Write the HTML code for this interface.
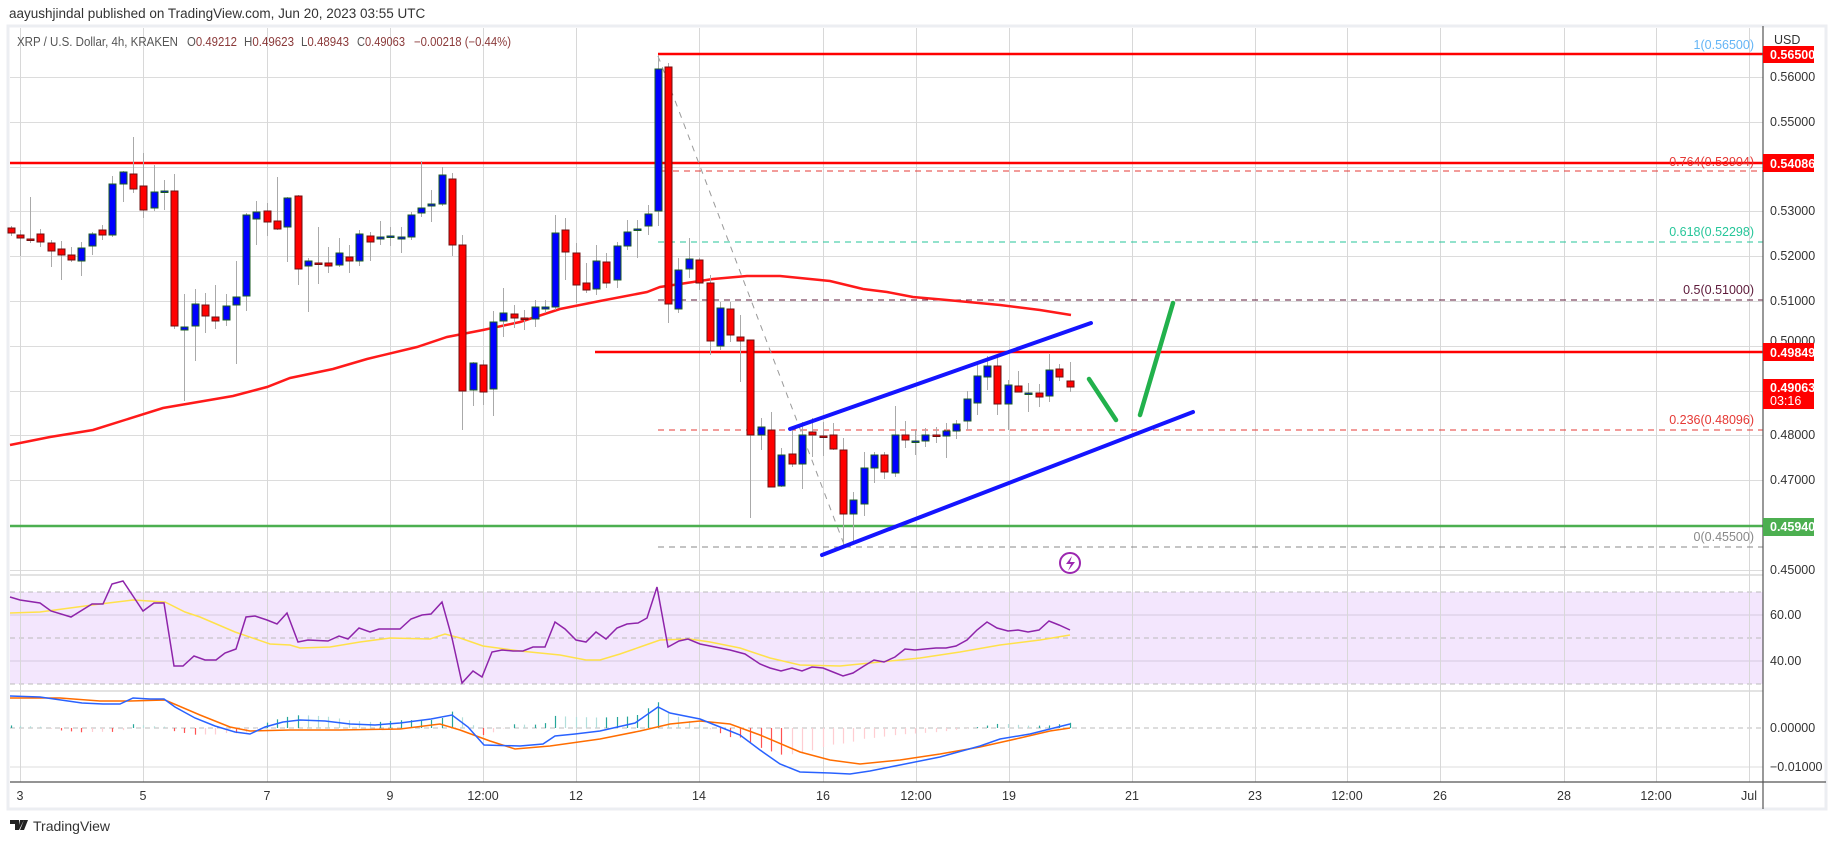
<!DOCTYPE html>
<html><head><meta charset="utf-8"><style>
html,body{margin:0;padding:0;background:#fff;width:1835px;height:845px;overflow:hidden;font-family:"Liberation Sans",sans-serif}
#hdr{position:absolute;left:9px;top:6px;font-size:13.5px;color:#333}
svg{position:absolute;left:0;top:0}
</style></head><body>
<div id="hdr">aayushjindal published on TradingView.com, Jun 20, 2023 03:55 UTC</div>
<svg id="s" width="1835" height="845" xmlns="http://www.w3.org/2000/svg" font-family="Liberation Sans, sans-serif">
<rect x="8" y="26" width="1818" height="783" fill="#fff" stroke="#eceef2" stroke-width="3"/>
<g id="grid" stroke="#dcdcdc" stroke-width="1"></g>
<rect x="10" y="592" width="1753" height="92" fill="#f3e6fd"/>
<g stroke="#bbb" stroke-dasharray="5,4" stroke-width="1">
<line x1="10" y1="592" x2="1763" y2="592"/><line x1="10" y1="638" x2="1763" y2="638"/><line x1="10" y1="684" x2="1763" y2="684"/><line x1="10" y1="728" x2="1763" y2="728"/>
</g>
<g stroke="#d6cbe0"><line x1="10" y1="615" x2="1763" y2="615"/><line x1="10" y1="661" x2="1763" y2="661"/></g>
<g stroke="#e3e3e3" stroke-width="2"><line x1="10" y1="575" x2="1763" y2="575"/><line x1="10" y1="691" x2="1763" y2="691"/></g>
<line x1="10" y1="767" x2="1763" y2="767" stroke="#dcdcdc"/>
<g id="vg"></g>
<line x1="658" y1="54" x2="1763" y2="54" stroke="#ff0000" stroke-width="2.5"/>
<line x1="10" y1="163" x2="1763" y2="163" stroke="#ff0000" stroke-width="2.5"/>
<line x1="662" y1="171" x2="1763" y2="171" stroke="#e53935" stroke-dasharray="6,5"/>
<line x1="658" y1="242" x2="1763" y2="242" stroke="#26c69a" stroke-dasharray="6,5"/>
<line x1="658" y1="300" x2="1763" y2="300" stroke="#5d1a3a" stroke-dasharray="6,5"/>
<line x1="595" y1="352" x2="1763" y2="352" stroke="#ff0000" stroke-width="2.5"/>
<line x1="658" y1="430" x2="1763" y2="430" stroke="#e53935" stroke-dasharray="6,5"/>
<line x1="658" y1="547" x2="1763" y2="547" stroke="#888" stroke-dasharray="6,5"/>
<line x1="10" y1="526" x2="1763" y2="526" stroke="#4caf50" stroke-width="2.5"/>
<line x1="658" y1="56" x2="845" y2="547" stroke="#999" stroke-dasharray="6,6"/>
<g font-size="12.5" text-anchor="end">
<text x="1754" y="49" fill="#64b5f6">1(0.56500)</text>
<text x="1754" y="166" fill="#e53935">0.764(0.53904)</text>
<text x="1754" y="236" fill="#26c69a">0.618(0.52298)</text>
<text x="1754" y="294" fill="#5d1a3a">0.5(0.51000)</text>
<text x="1754" y="424" fill="#e53935">0.236(0.48096)</text>
<text x="1754" y="541" fill="#888">0(0.45500)</text>
</g>
<polyline id="sma" fill="none" stroke="#ff1a1a" stroke-width="2.5" points="10,445 50,437 93,430 163,408 233,396 267,387 290,378 333,369 367,359 417,347 447,337 483,330 520,322 560,309 600,301 647,292 660,287 713,279 747,276 780,276 830,281 863,289 887,292 913,297 947,300 1000,305 1040,310 1071,315"/>
<g id="candles"></g>
<g stroke="#1414ff" stroke-width="4" stroke-linecap="round">
<line x1="790" y1="429" x2="1091" y2="323"/><line x1="822" y1="555" x2="1193" y2="412"/>
</g>
<g stroke="#22b14c" stroke-width="4.5" stroke-linecap="round">
<line x1="1089" y1="379" x2="1116" y2="420"/><line x1="1140" y1="415" x2="1173" y2="303"/>
</g>
<circle cx="1070" cy="563" r="10" fill="#fff" stroke="#9c27b0" stroke-width="2"/>
<path d="M1072,556 L1066,564 L1071,564 L1068,571 L1075,562 L1070,562 Z" fill="#9c27b0"/>
<polyline id="rsima" fill="none" stroke="#ffe14a" stroke-width="1.5" points="10,613 40,612 70,608 100,604 133,600 165,602 185,612 200,617 235,632 270,644 290,645 300,648 330,647 360,642 390,638 430,639 445,634 460,638 483,646 520,651 560,655 586,660 600,660 620,654 640,647 660,640 690,639 710,642 740,648 770,658 800,665 840,666 880,662 920,658 960,652 1000,645 1040,640 1070,635"/>
<polyline fill="none" stroke="#8e24aa" stroke-width="1.5" points="10,597 20,600 40,603 51,611 71,617 92,604 103,604 112,584 123,581 133,596 143,611 154,603 164,603 174,666 183,666 194,656 205,660 216,660 225,653 236,649 246,617 255,616 267,620 277,624 287,613 298,642 308,640 328,641 339,636 348,639 359,628 370,632 379,629 400,629 411,619 422,615 431,614 442,602 452,638 462,683 473,671 482,677 492,652 502,650 513,651 523,651 533,647 545,647 555,622 565,629 576,640 586,642 596,632 606,639 617,628 627,624 638,623 647,618 657,587 668,647 679,641 688,639 700,644 710,646 720,648 730,650 745,654 760,664 770,668 781,671 792,668 802,671 812,667 823,668 833,672 843,676 853,673 864,666 874,660 884,662 895,657 905,649 915,650 925,649 936,648 946,648 956,646 967,640 977,630 987,622 997,628 1008,631 1018,630 1028,632 1039,630 1049,621 1059,625 1070,630"/>
<g id="hist"></g>
<polyline id="sig" fill="none" stroke="#ff6d00" stroke-width="1.5" points="10,698 60,698 100,701 130,701 165,700 200,715 230,727 250,731 290,730 340,730 400,729 440,724 460,730 490,741 515,749 550,746 600,739 640,731 670,724 700,721 730,724 760,735 800,752 830,760 860,764 900,760 940,754 980,747 1020,738 1050,731 1070,728"/>
<polyline id="macd" fill="none" stroke="#2962ff" stroke-width="1.5" points="10,696 40,697 82,703 103,704 120,704 133,698 150,699 164,699 175,707 195,718 215,726 235,732 250,734 265,727 283,722 300,720 325,721 350,724 375,725 400,723 431,719 452,715 468,727 484,745 520,746 543,744 555,736 575,734 600,731 635,723 658,707 670,713 700,719 720,727 740,735 760,750 780,764 800,772 830,773 850,774 870,771 900,765 940,757 980,746 1000,739 1030,734 1070,724"/>
<line x1="1763" y1="26" x2="1763" y2="809" stroke="#555" stroke-width="1.2"/>
<line x1="10" y1="782" x2="1826" y2="782" stroke="#555" stroke-width="1.2"/>
<g font-size="12.5" lengthAdjust="spacingAndGlyphs">
<text x="17" y="46" fill="#555" textLength="161" lengthAdjust="spacingAndGlyphs">XRP / U.S. Dollar, 4h, KRAKEN</text>
<text x="187" y="46" fill="#555" textLength="50" lengthAdjust="spacingAndGlyphs">O<tspan fill="#8b3a3a">0.49212</tspan></text>
<text x="244" y="46" fill="#555" textLength="50" lengthAdjust="spacingAndGlyphs">H<tspan fill="#8b3a3a">0.49623</tspan></text>
<text x="301" y="46" fill="#555" textLength="48" lengthAdjust="spacingAndGlyphs">L<tspan fill="#8b3a3a">0.48943</tspan></text>
<text x="357" y="46" fill="#555" textLength="48" lengthAdjust="spacingAndGlyphs">C<tspan fill="#8b3a3a">0.49063</tspan></text>
<text x="414" y="46" fill="#8b3a3a" textLength="97" lengthAdjust="spacingAndGlyphs">−0.00218 (−0.44%)</text>
</g>
<g font-size="12.5" fill="#333" id="yl">
<text x="1774" y="44">USD</text>
<text x="1770" y="81">0.56000</text><text x="1770" y="126">0.55000</text><text x="1770" y="215">0.53000</text><text x="1770" y="260">0.52000</text><text x="1770" y="305">0.51000</text><text x="1770" y="345">0.50000</text><text x="1770" y="439">0.48000</text><text x="1770" y="484">0.47000</text><text x="1770" y="574">0.45000</text>
<text x="1770" y="619">60.00</text><text x="1770" y="665">40.00</text><text x="1770" y="732">0.00000</text><text x="1770" y="771">−0.01000</text>
</g>
<g font-size="12.5" font-weight="bold" fill="#fff">
<rect x="1763" y="46" width="51" height="17" fill="#ff0000"/><text x="1770" y="59">0.56500</text>
<rect x="1763" y="154" width="51" height="18" fill="#ff0000"/><text x="1770" y="168">0.54086</text>
<rect x="1763" y="343" width="51" height="18" fill="#ff0000"/><text x="1770" y="357">0.49849</text>
<rect x="1763" y="379" width="51" height="30" fill="#ff0000"/><text x="1770" y="392">0.49063</text><text x="1770" y="405" font-weight="normal">03:16</text>
<rect x="1763" y="518" width="51" height="18" fill="#4caf50"/><text x="1770" y="531">0.45940</text>
</g>
<g id="xl" font-size="12.5" fill="#333" text-anchor="middle"></g>
<g transform="translate(10,818)"><path d="M0,2 h9 v10 h-4 v-6 h-5 z M10,2 h4 l-5,10 h-1 z M14,2 h4 l-4,10 h-4z" fill="#222"/></g>
<text x="33" y="831" font-size="14" fill="#333">TradingView</text>
</svg>
<script>
var NS="http://www.w3.org/2000/svg";
function el(t,a,p){var e=document.createElementNS(NS,t);for(var k in a)e.setAttribute(k,a[k]);p.appendChild(e);return e;}
var g=document.getElementById('grid');
for(var p=0.45;p<0.5605;p+=0.01){var y=Math.round(77+(0.56-p)*4480)+0.5;el('line',{x1:10,y1:y,x2:1763,y2:y},g);}
var xs=[[20,'3'],[143,'5'],[267,'7'],[390,'9'],[483,'12:00'],[576,'12'],[699,'14'],[823,'16'],[916,'12:00'],[1009,'19'],[1132,'21'],[1255,'23'],[1347,'12:00'],[1440,'26'],[1564,'28'],[1656,'12:00'],[1749,'Jul']];
var vg=document.getElementById('vg'),xl=document.getElementById('xl');
xs.forEach(function(a){el('line',{x1:a[0]+.5,y1:28,x2:a[0]+.5,y2:782,stroke:'#d8d8d8'},vg);var t=el('text',{x:a[0],y:800},xl);t.textContent=a[1];});
var C=[[11,228,233,226,236,'r'],[20,235,238,230,256,'r'],[30,239,240,197,243,'r'],[40,234,242,229,247,'r'],[51,243,251,240,267,'r'],[61,249,255,241,280,'r'],[71,255,260,247,262,'r'],[81,248,261,242,276,'b'],[92,234,246,232,255,'b'],[102,230,235,225,240,'r'],[112,184,235,176,237,'b'],[123,172,184,171,202,'b'],[133,174,189,137,193,'r'],[143,186,210,153,218,'r'],[154,192,208,165,211,'b'],[164,191,192,180,210,'b'],[174,191,326,174,329,'r'],[184,327,330,294,401,'b'],[195,304,326,289,361,'b'],[205,305,316,293,333,'r'],[215,317,321,285,329,'r'],[226,306,320,294,326,'b'],[236,297,305,261,364,'b'],[246,215,296,213,311,'b'],[256,212,219,201,245,'b'],[267,211,222,203,236,'r'],[277,221,229,177,230,'r'],[287,198,227,197,262,'b'],[298,196,269,195,285,'r'],[308,261,266,258,312,'b'],[318,263,264,227,284,'r'],[328,263,266,247,273,'r'],[339,253,265,238,267,'b'],[349,257,261,245,273,'r'],[359,234,261,230,266,'b'],[370,236,242,232,261,'r'],[380,237,239,221,245,'b'],[390,236,237,227,246,'b'],[401,237,239,227,253,'b'],[411,215,237,212,240,'b'],[421,208,213,161,217,'b'],[431,204,206,190,222,'b'],[442,175,204,167,206,'b'],[452,179,245,173,256,'r'],[462,245,391,235,430,'r'],[473,363,390,362,406,'b'],[483,365,392,360,405,'r'],[493,322,389,311,416,'b'],[503,313,321,288,337,'b'],[514,314,318,305,328,'r'],[524,318,319,310,330,'r'],[535,307,319,300,327,'b'],[545,307,309,300,313,'b'],[555,233,307,215,310,'b'],[565,230,252,218,280,'r'],[576,253,285,243,303,'r'],[586,283,290,263,293,'r'],[596,261,289,245,295,'b'],[606,262,283,253,288,'r'],[617,246,280,242,288,'b'],[627,232,246,220,250,'b'],[637,229,230,220,258,'b'],[648,214,226,205,235,'b'],[658,69,211,55,226,'b'],[668,67,304,63,323,'r'],[678,270,309,258,313,'b'],[689,259,269,238,278,'b'],[699,260,283,258,290,'r'],[710,283,341,275,355,'r'],[720,308,346,302,350,'b'],[730,309,335,302,342,'r'],[740,337,341,315,382,'r'],[750,340,435,340,518,'r'],[761,427,435,418,450,'b'],[771,430,487,412,487,'r'],[781,455,486,448,487,'b'],[792,454,464,429,467,'r'],[802,435,464,422,489,'b'],[812,432,435,418,457,'r'],[823,436,437,422,456,'r'],[833,435,449,423,450,'r'],[843,450,514,438,547,'r'],[853,500,514,492,542,'b'],[864,468,504,452,516,'b'],[874,455,468,452,483,'b'],[884,455,472,452,479,'r'],[895,435,473,406,477,'b'],[905,435,440,421,448,'r'],[915,441,442,430,455,'b'],[925,435,441,428,447,'b'],[936,435,436,427,443,'r'],[946,431,436,423,458,'b'],[956,424,431,420,439,'b'],[967,399,421,391,430,'b'],[977,376,403,363,415,'b'],[987,366,377,356,390,'b'],[997,366,404,357,415,'r'],[1008,385,404,380,430,'b'],[1018,386,392,371,392,'r'],[1028,393,394,383,412,'b'],[1039,393,397,384,407,'r'],[1049,370,396,354,402,'b'],[1059,369,377,364,381,'r'],[1070,381,387,362,392,'r']];
var cg=document.getElementById('candles');
C.forEach(function(c){
 el('line',{x1:c[0]+.5,y1:c[3],x2:c[0]+.5,y2:c[4],stroke:'#aaa','stroke-width':1},cg);
 var h=Math.max(c[2]-c[1],1.5);
 el('rect',{x:c[0]-3,y:c[1],width:7,height:h,fill:c[5]=='b'?'#0000ff':'#ff0000',stroke:c[5]=='b'?'#1b5e20':'#6d1010','stroke-width':1},cg);
});
function parse(id){return document.getElementById(id).getAttribute('points').trim().split(/\s+/).map(function(s){return s.split(',').map(Number);});}
function interp(P,x){for(var i=1;i<P.length;i++){if(P[i][0]>=x){var a=P[i-1],b=P[i];return a[1]+(b[1]-a[1])*(x-a[0])/(b[0]-a[0]);}}return P[P.length-1][1];}
var M=parse('macd'),S=parse('sig'),hg=document.getElementById('hist'),prev=0;
C.forEach(function(c){var d=(interp(M,c[0])-interp(S,c[0]))*1.3;var up=d<0;var col=up?(Math.abs(d)>Math.abs(prev)?'#26a69a':'#b2dfdb'):(Math.abs(d)>Math.abs(prev)?'#ff5252':'#ffcdd2');prev=d;
 if(Math.abs(d)>0.3)el('line',{x1:c[0]+.5,y1:728,x2:c[0]+.5,y2:728+d,stroke:col,'stroke-width':1.2},hg);});
</script>
</body></html>
